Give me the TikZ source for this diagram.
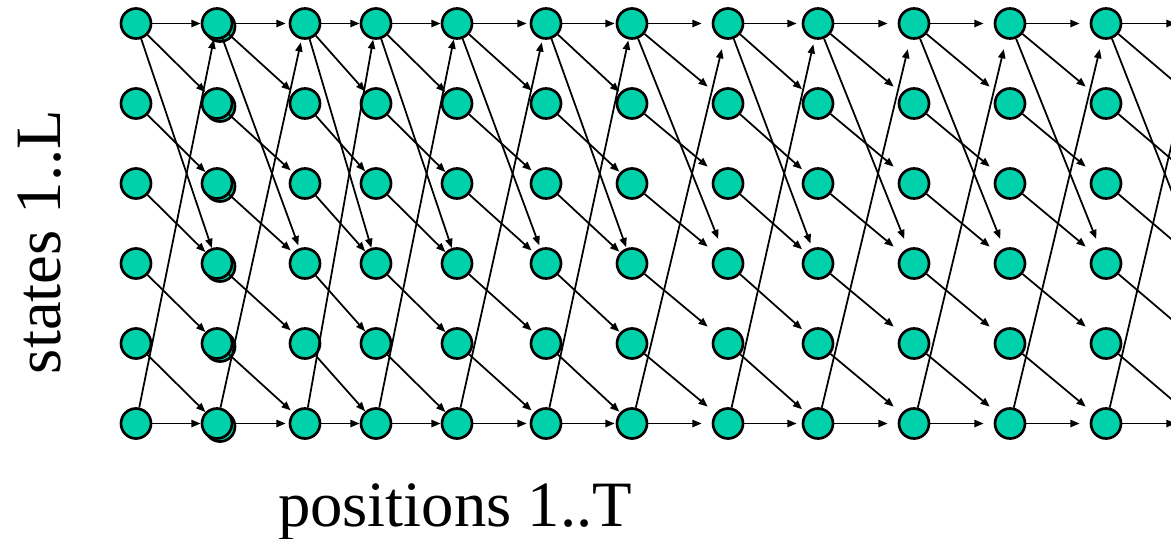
\documentclass[tikz,border=0pt]{standalone}
\usepackage{fontspec}
\setmainfont{Liberation Serif}
\usepackage{tikz}
\usetikzlibrary{arrows.meta}
\usepackage{xcolor}
\definecolor{statefill}{HTML}{00D1AA}

\tikzset{
  state/.style={circle, draw=black, line width=1.9pt, fill=statefill,
    minimum size=0.75cm, inner sep=0pt},
  trans/.style={-{Triangle[length=0.23cm,width=0.18cm]}, line width=1.25pt},
  axislbl/.style={font=\fontsize{46}{54}\selectfont},
}

\begin{document}
\begin{tikzpicture}[x=0.025cm,y=-0.025cm]
  \useasboundingbox (0,0) rectangle (1171,539);
  \clip (0,0) rectangle (1171,539);
  % doubled circles of column 2
  \foreach \r in {1,...,6}
    \node[state] (dup-\r) at (220,{26.5+80*(\r-1)}) {};
  % state grid, column 13 sits past the right edge
  \foreach \c/\xc in {1/136, 2/217, 3/305, 4/376, 5/457, 6/546, 7/632,
                      8/728, 9/818, 10/914, 11/1010, 12/1106, 13/1200}{
    \foreach \r in {1,...,6}
      \node[state] (s\c-\r) at (\xc,{23.5+80*(\r-1)}) {};}
  % transitions between neighbouring positions, \g = gap before target
  \foreach \c/\g [count=\n from 2] in {1/0, 2/3, 3/0, 4/0, 5/3, 6/1,
                                       7/10, 8/5, 9/10, 10/10, 11/10, 12/8}{
    \begin{scope}[trans, shorten >={\g*0.025cm}]
      \draw (s\c-1) -- (s\n-1);
      \draw (s\c-6) -- (s\n-6);
      \draw (s\c-1) -- (s\n-4);
      \draw (s\c-6) -- (s\n-1);
      \foreach \r [count=\rn from 2] in {1,...,5}
        \draw (s\c-\r) -- (s\n-\rn);
    \end{scope}}
  \node[axislbl, rotate=90] (statelbl) at (40,242) {states 1..L};
  \node[axislbl] (poslbl) at (455,512) {positions 1..T};
\end{tikzpicture}
\end{document}
